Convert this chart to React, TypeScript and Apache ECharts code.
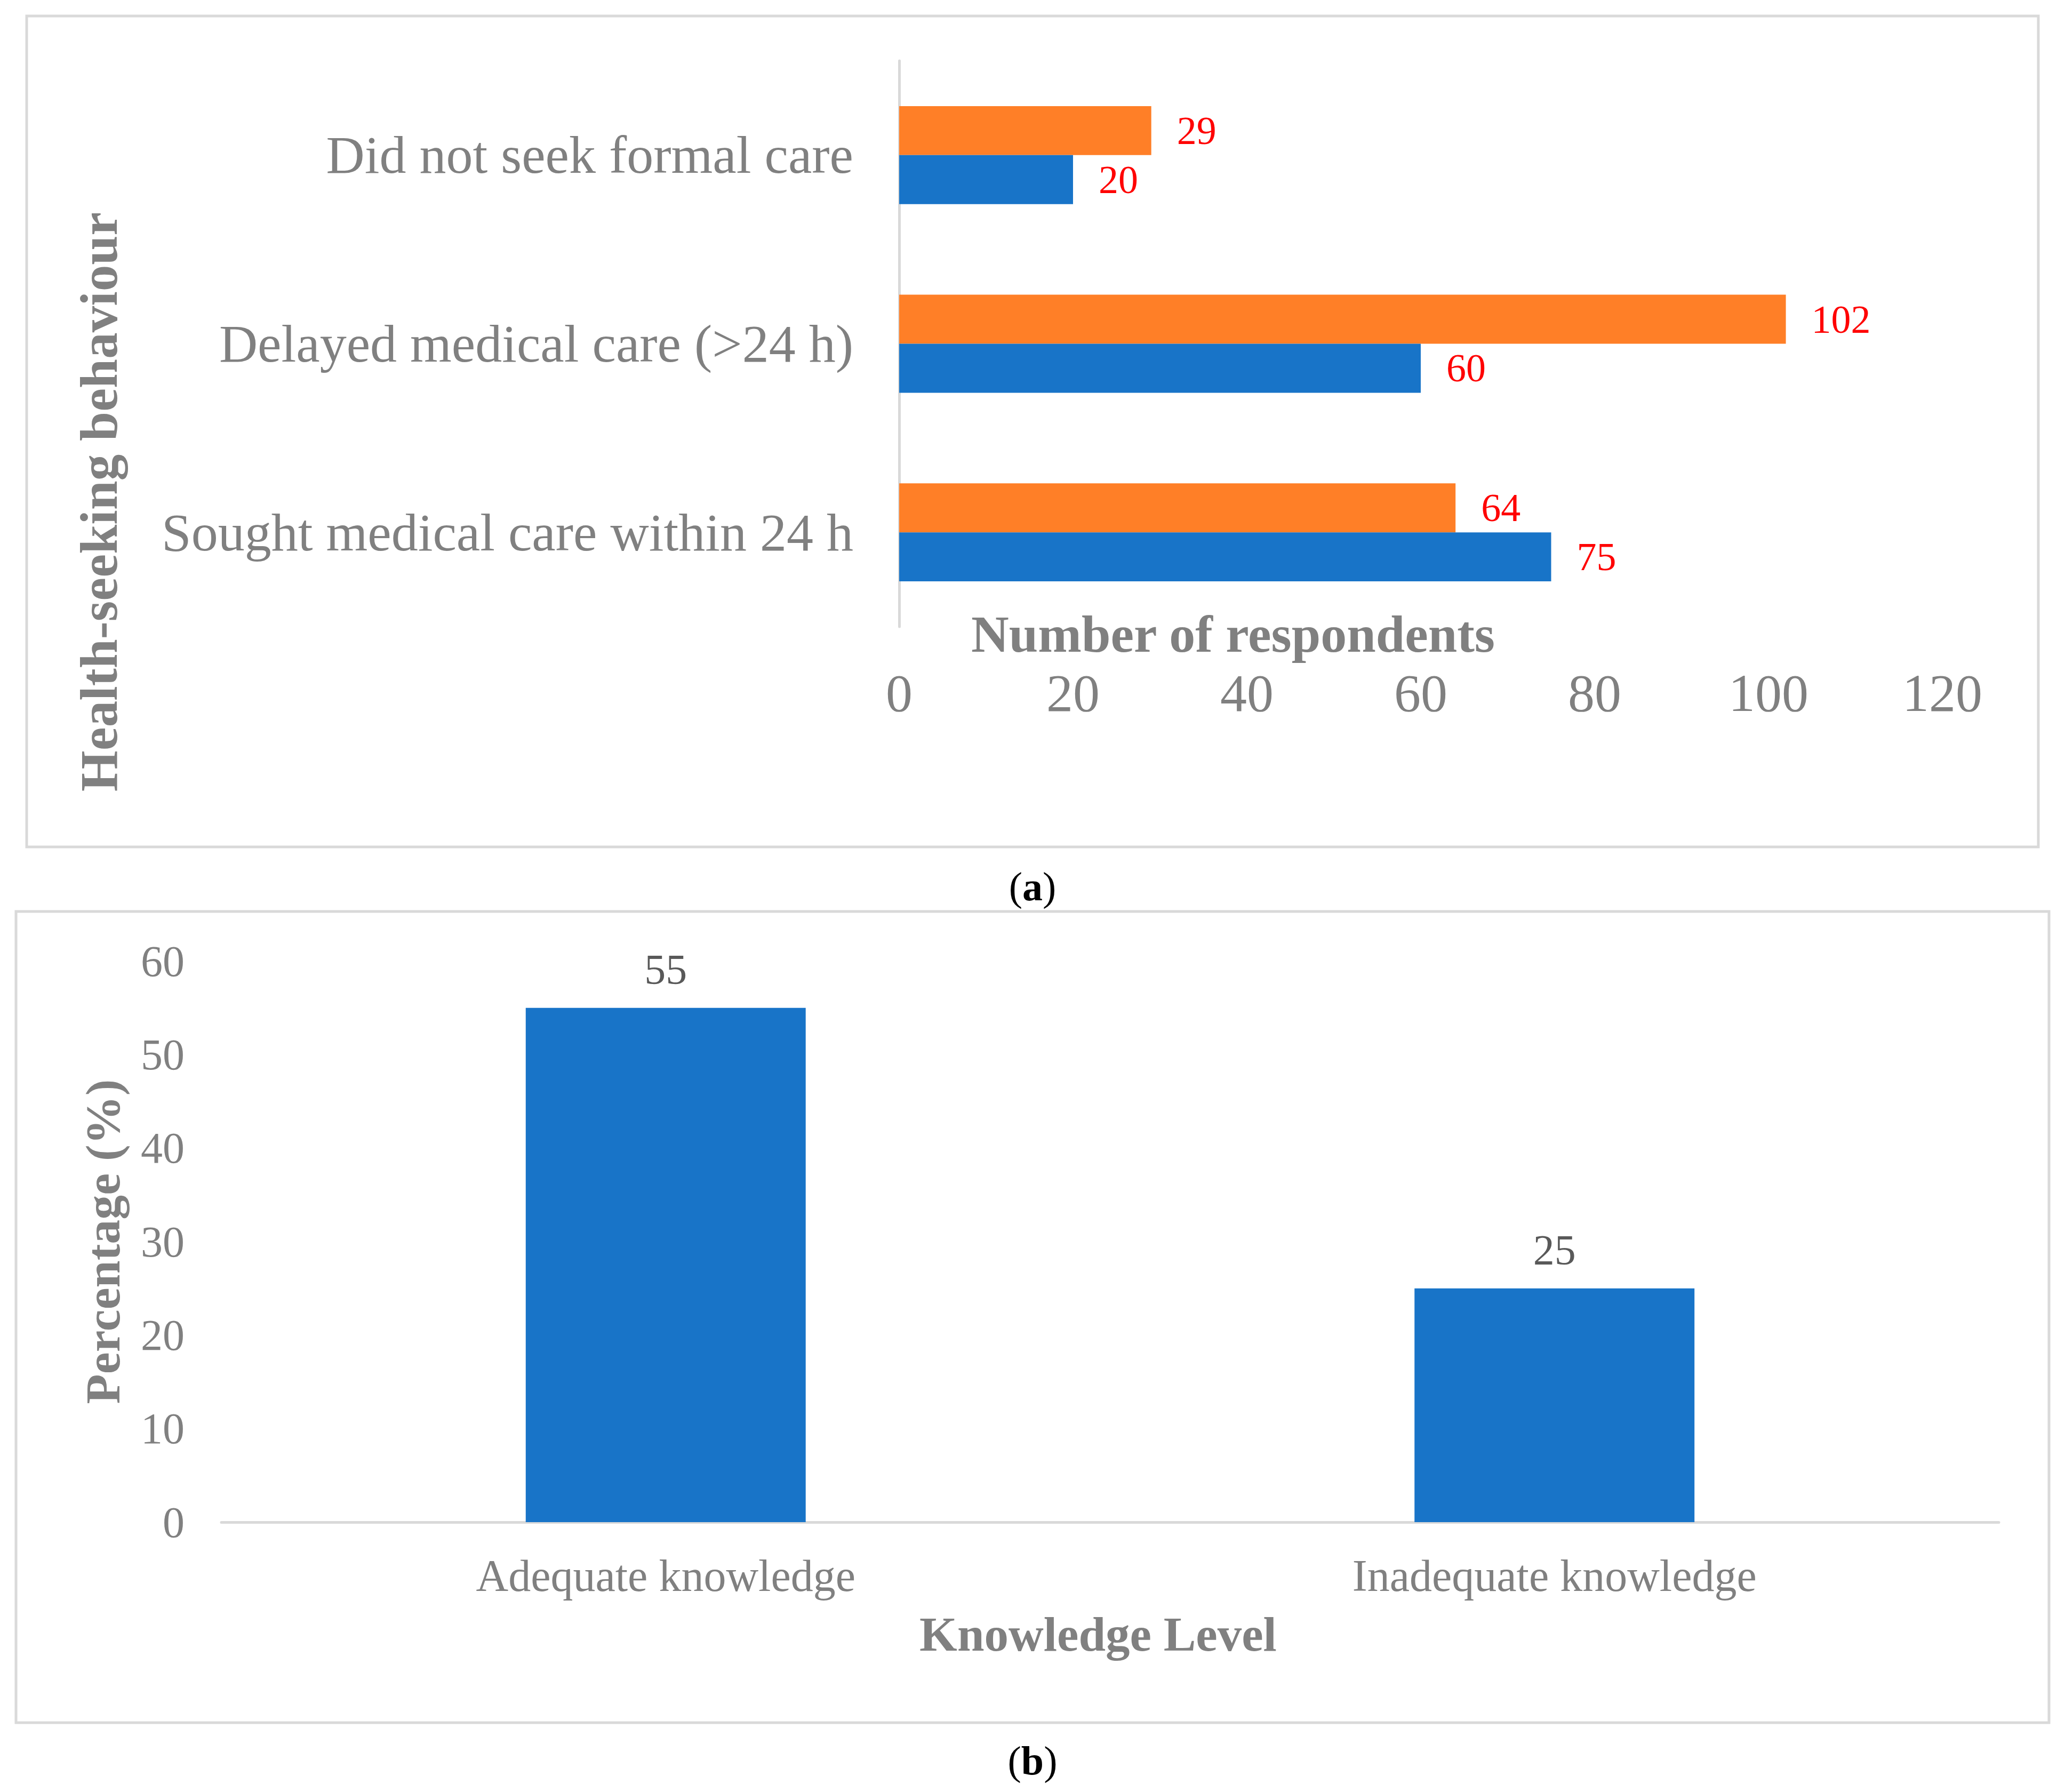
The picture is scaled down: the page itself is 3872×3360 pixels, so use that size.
import React, { useEffect, useRef } from 'react';
import * as echarts from 'echarts';

const behaviourCategories = [
  'Sought medical care within 24 h',
  'Delayed medical care (>24 h)',
  'Did not seek formal care',
];
const orangeSeries = [64, 102, 29];
const blueSeries = [75, 60, 20];
const respondentTicks = [0, 20, 40, 60, 80, 100, 120];

const knowledgeCategories = ['Adequate knowledge', 'Inadequate knowledge'];
const knowledgeValues = [55, 25];

const BLUE = '#1874C8';
const ORANGE = '#FF7F27';
const GRAY = '#808080';
const LINE = '#D9D9D9';
const FONT = '"Liberation Serif", "Times New Roman", serif';

const redLabel = {
  show: true,
  position: 'right',
  distance: 48,
  color: '#FF0000',
  fontSize: 74,
  fontFamily: FONT,
};

export default function App() {
  const chartRef = useRef<HTMLDivElement>(null);

  useEffect(() => {
    document.body.style.margin = '0';
    if (!chartRef.current) return;
    const chart = echarts.init(chartRef.current, undefined, { renderer: 'svg' });

    chart.setOption({
      animation: false,
      backgroundColor: '#FFFFFF',
      textStyle: { fontFamily: FONT },
      grid: [
        { left: 1686, right: 230, top: 114, bottom: 2185, containLabel: false },
        { left: 415, right: 124, top: 1802, bottom: 506, containLabel: false },
      ],
      xAxis: [
        {
          gridIndex: 0,
          type: 'value',
          min: respondentTicks[0],
          max: respondentTicks[respondentTicks.length - 1],
          interval: 20,
          axisLine: { show: false },
          axisTick: { show: false },
          splitLine: { show: false },
          axisLabel: {
            color: GRAY,
            fontSize: 100,
            lineHeight: 72,
            margin: 88,
            fontFamily: FONT,
          },
        },
        {
          gridIndex: 1,
          type: 'category',
          data: knowledgeCategories,
          axisLine: { show: true, lineStyle: { color: LINE, width: 5 } },
          axisTick: { show: false },
          axisLabel: { color: GRAY, fontSize: 84, margin: 58, fontFamily: FONT },
        },
      ],
      yAxis: [
        {
          gridIndex: 0,
          type: 'category',
          data: behaviourCategories,
          axisLine: { show: true, lineStyle: { color: LINE, width: 5 } },
          axisTick: { show: false },
          axisLabel: { color: GRAY, fontSize: 100, margin: 86, fontFamily: FONT },
        },
        {
          gridIndex: 1,
          type: 'value',
          min: 0,
          max: 60,
          interval: 10,
          name: 'Percentage (%)',
          nameLocation: 'middle',
          nameGap: 222,
          nameRotate: 90,
          nameMoveOverlap: false,
          nameTextStyle: {
            color: GRAY,
            fontSize: 92,
            fontWeight: 'bold',
            fontFamily: FONT,
            verticalAlign: 'middle',
          },
          axisLine: { show: false },
          axisTick: { show: false },
          splitLine: { show: false },
          axisLabel: { color: GRAY, fontSize: 82, margin: 69, fontFamily: FONT },
        },
      ],
      series: [
        {
          name: 'Orange',
          type: 'bar',
          xAxisIndex: 0,
          yAxisIndex: 0,
          data: orangeSeries,
          barGap: '0%',
          barCategoryGap: '48%',
          itemStyle: { color: ORANGE },
          label: redLabel,
        },
        {
          name: 'Blue',
          type: 'bar',
          xAxisIndex: 0,
          yAxisIndex: 0,
          data: blueSeries,
          barGap: '0%',
          barCategoryGap: '48%',
          itemStyle: { color: BLUE },
          label: redLabel,
        },
        {
          name: 'Knowledge',
          type: 'bar',
          xAxisIndex: 1,
          yAxisIndex: 1,
          data: knowledgeValues,
          barWidth: '31.5%',
          itemStyle: { color: BLUE },
          label: {
            show: true,
            position: 'top',
            distance: 32,
            color: '#595959',
            fontSize: 80,
            fontFamily: FONT,
          },
        },
      ],
      graphic: [
        {
          type: 'rect',
          shape: { x: 50, y: 30, width: 3772, height: 1558 },
          style: { fill: 'none', stroke: LINE, lineWidth: 5 },
        },
        {
          type: 'rect',
          shape: { x: 30, y: 1709, width: 3812, height: 1521 },
          style: { fill: 'none', stroke: LINE, lineWidth: 5 },
        },
        {
          type: 'text',
          x: 185,
          y: 941,
          rotation: Math.PI / 2,
          style: {
            text: 'Health-seeking behaviour',
            fill: GRAY,
            font: `bold 99px ${FONT}`,
            align: 'center',
            verticalAlign: 'middle',
          },
        },
        {
          type: 'text',
          x: 2312,
          y: 1189,
          style: {
            text: 'Number of respondents',
            fill: GRAY,
            font: `bold 98px ${FONT}`,
            lineHeight: 72,
            align: 'center',
            verticalAlign: 'middle',
          },
        },
        {
          type: 'text',
          x: 2059,
          y: 3064,
          style: {
            text: 'Knowledge Level',
            fill: GRAY,
            font: `bold 91px ${FONT}`,
            align: 'center',
            verticalAlign: 'middle',
          },
        },
        {
          type: 'text',
          x: 1936,
          y: 1662,
          style: {
            text: '({b|a})',
            fill: '#000000',
            font: `76px ${FONT}`,
            align: 'center',
            verticalAlign: 'middle',
            rich: { b: { fontWeight: 'bold', fontSize: 76, fontFamily: FONT, fill: '#000000' } },
          },
        },
        {
          type: 'text',
          x: 1936,
          y: 3301,
          style: {
            text: '({b|b})',
            fill: '#000000',
            font: `76px ${FONT}`,
            align: 'center',
            verticalAlign: 'middle',
            rich: { b: { fontWeight: 'bold', fontSize: 76, fontFamily: FONT, fill: '#000000' } },
          },
        },
      ],
    });

    return () => {
      chart.dispose();
    };
  }, []);

  return <div ref={chartRef} style={{ width: 3872, height: 3360 }} />;
}
